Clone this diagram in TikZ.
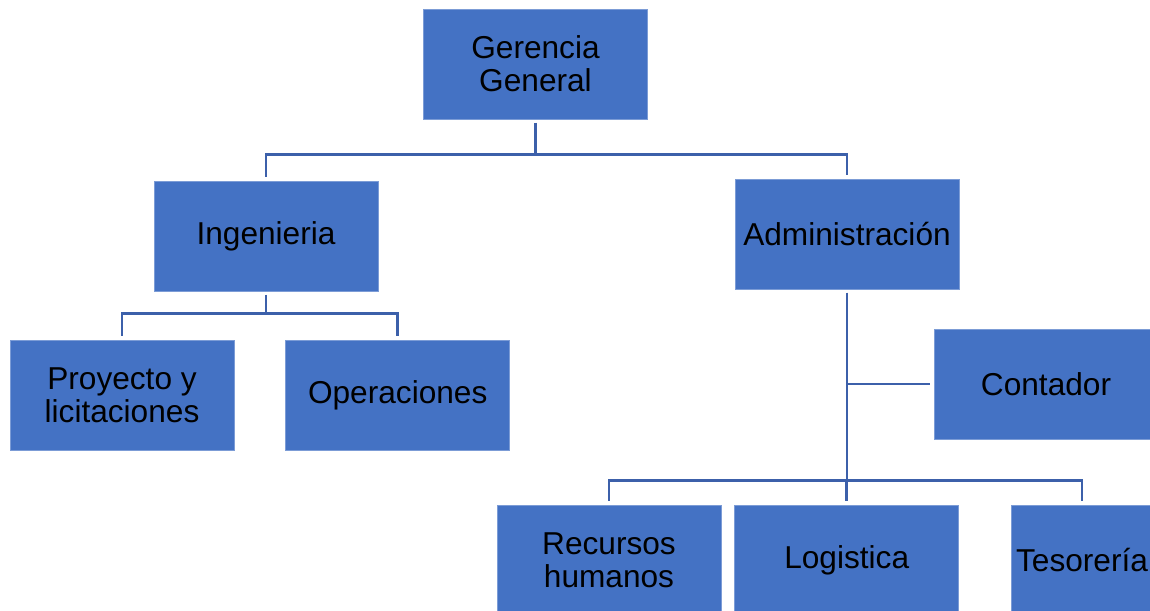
\documentclass[tikz,border=0pt]{standalone}
\usepackage{fontspec}
\setmainfont{Liberation Sans}
\usetikzlibrary{positioning, calc}
\definecolor{boxblue}{RGB}{68,114,196}
\definecolor{lineblue}{RGB}{60,96,170}
\tikzset{%
	unit/.style={draw=boxblue!70!white, line width=0.4pt, rectangle, fill=boxblue,%
		minimum width=4.48cm, minimum height=2.2cm, inner sep=0mm,%
		align=center, font=\fontsize{18}{19}\selectfont},
	link/.style={draw=lineblue, line width=1.6pt, shorten >=2pt, shorten <=2pt}
}
\begin{document}
\begin{tikzpicture}
	\useasboundingbox (0,0) rectangle (23,12.22);

	\node [unit] (gg) at (10.71,10.94) {Gerencia\\General};
	\node [unit] (ing) at (5.32,7.5) {Ingenieria};
	\node [unit] (adm) at (16.94,7.54) {Administración};
	\node [unit] (proy) at (2.44,4.32) {Proyecto y\\licitaciones};
	\node [unit, right=1.02 of proy] (oper) {Operaciones};
	\node [unit] (cont) at (20.92,4.54) {Contador};
	\node [unit] (rrhh) at (12.18,1.02) {Recursos\\humanos};
	\node [unit, right=0.26 of rrhh] (log) {Logistica};
	\node [unit, minimum width=2.84cm] (tes) at (21.64,1.02) {Tesorería};

	%top
	\draw [link] (gg.south) -- +(0,-0.7) -| (ing.north);
	\draw [link] (gg.south) -- +(0,-0.7) -| (adm.north);

	%left
	\draw [link] (ing.south) -- +(0,-0.44) -| (proy.north);
	\draw [link] (ing.south) -- +(0,-0.44) -| (oper.north);

	%right
	\draw [link] (adm.south) |- (cont.west);
	\draw [link] (adm.south) -- +(0,-3.82) -| (rrhh.north);
	\draw [link] (adm.south) -- +(0,-3.82) -| (log.north);
	\draw [link] (adm.south) -- +(0,-3.82) -| (tes.north);
\end{tikzpicture}
\end{document}
